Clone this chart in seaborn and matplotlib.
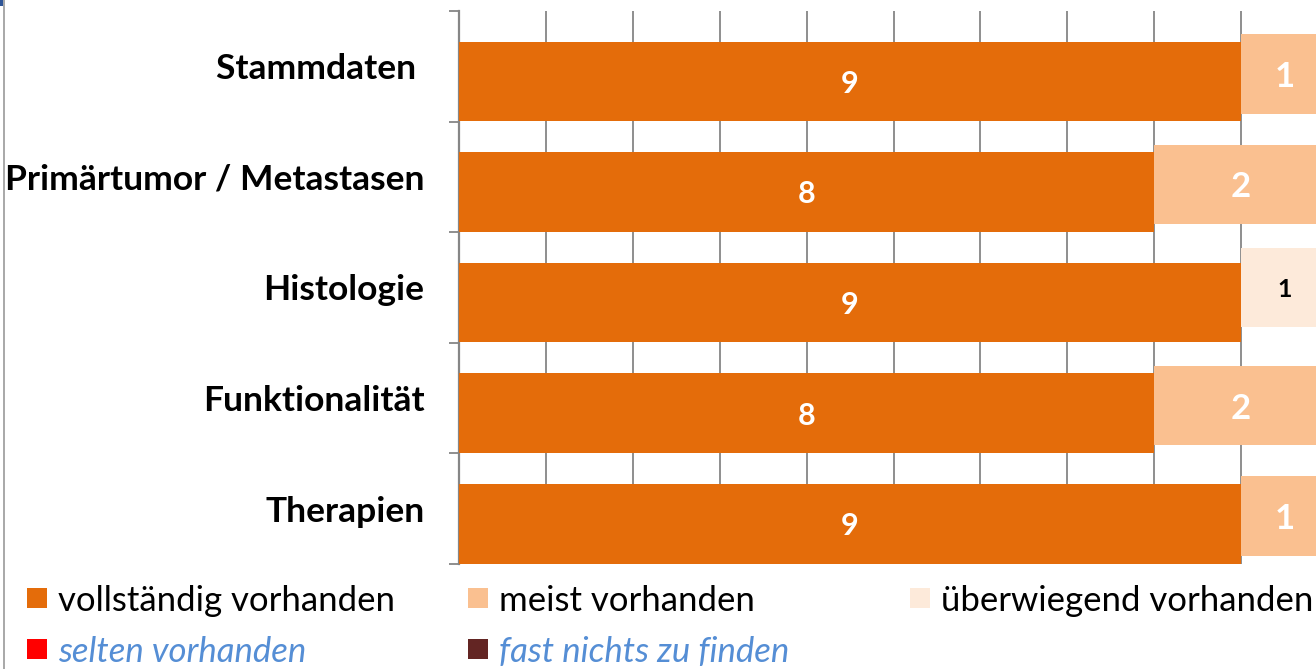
import matplotlib
matplotlib.use("Agg")
import matplotlib.pyplot as plt
from matplotlib.patches import Rectangle
from matplotlib.lines import Line2D
import seaborn as sns
import pandas as pd
import numpy as np

# ---- data ----
categories = ["Stammdaten ", "Primärtumor / Metastasen", "Histologie", "Funktionalität", "Therapien"]
series_names = ["vollständig vorhanden", "meist vorhanden", "überwiegend vorhanden",
                "selten vorhanden", "fast nichts zu finden"]
vollstaendig = [9, 8, 9, 8, 9]
meist = [1, 2, 0, 2, 1]
ueberwiegend = [0, 0, 1, 0, 0]
selten = [0, 0, 0, 0, 0]
fast_nichts = [0, 0, 0, 0, 0]

# ---- style ----
colors = ["#E46C0A", "#FAC090", "#FDEADA", "#FF0000", "#632523"]
label_colors = ["white", "white", "black", "white", "white"]
label_sizes = [22, 25, 18, 22, 22]
legend_text_colors = ["black", "black", "black", "#558ED5", "#558ED5"]
legend_italic = [False, False, False, True, True]
grid_color = "#868686"

sns.set_theme(style="white")
plt.rcParams["font.family"] = ["Lato", "DejaVu Sans"]
plt.rcParams["text.color"] = "black"

W, H = 1316, 669
fig = plt.figure(figsize=(W / 100, H / 100), dpi=100)
ax_left, ax_right, ax_top, ax_bottom = 459, 1328, 11, 564
ax = fig.add_axes([ax_left / W, 1 - ax_bottom / H, (ax_right - ax_left) / W, (ax_bottom - ax_top) / H])

all_series = [vollstaendig, meist, ueberwiegend, selten, fast_nichts]
idx = np.arange(len(categories))
bar_h = 0.72
step = 0.068
left = np.zeros(len(categories))
for i, vals in enumerate(all_series):
    vals = np.array(vals, dtype=float)
    offset = (2 - i) * step
    df = pd.DataFrame({"pos": idx + offset, "val": vals})
    sns.barplot(data=df, x="val", y="pos", orient="y", native_scale=True,
                left=left.copy(), color=colors[i], width=bar_h, errorbar=None,
                saturation=1, linewidth=0, ax=ax, zorder=3)
    cont = ax.containers[-1]
    labels = [str(int(v)) if v > 0 else "" for v in vals]
    texts = ax.bar_label(cont, labels=labels, label_type="center", color=label_colors[i],
                         fontsize=label_sizes[i], fontweight="bold")
    for t in texts:
        t.set_va("center_baseline")
    left = left + vals

ax.set_xlim(0, 10)
ax.set_ylim(len(categories) - 0.5, -0.5)

# grid
ax.set_xticks(np.arange(1, 11))
ax.xaxis.grid(True, color=grid_color, linewidth=1.3, zorder=0)
ax.yaxis.grid(False)
ax.tick_params(axis="x", length=0, labelbottom=False)
ax.set_axisbelow(True)

# y axis: boundary ticks (major) + labels (minor)
ax.set_yticks(np.arange(-0.5, len(categories) + 0.5, 1.0))
ax.set_yticklabels([])
ax.set_yticks(idx, minor=True)
ax.set_yticklabels(categories, minor=True, fontsize=25.5, fontweight="bold", color="black")
ax.tick_params(axis="y", which="major", direction="out", length=7.5, width=1.3,
               color=grid_color, left=True)
ax.tick_params(axis="y", which="minor", length=0, pad=25)
ax.set_xlabel("")
ax.set_ylabel("")
for s in ["top", "right", "bottom"]:
    ax.spines[s].set_visible(False)
ax.spines["left"].set_color(grid_color)
ax.spines["left"].set_linewidth(1.6)

# ---- legend (Excel-like fixed grid) ----
col_x = [27, 468, 910]
row_y = [598, 649]
order_pos = [(0, 0), (0, 1), (0, 2), (1, 0), (1, 1)]
for i, name in enumerate(series_names):
    r, c = order_pos[i]
    x0 = col_x[c]
    yc = row_y[r]
    fig.add_artist(Rectangle((x0 / W, 1 - (yc + 10) / H), 20 / W, 20 / H,
                             transform=fig.transFigure, facecolor=colors[i],
                             edgecolor="none"))
    fig.text((x0 + 31) / W, 1 - yc / H, name, ha="left", va="center_baseline",
             fontsize=25, color=legend_text_colors[i],
             style="italic" if legend_italic[i] else "normal")

# slide frame remnants
fig.add_artist(Line2D([3.5 / W, 3.5 / W], [0, 1], transform=fig.transFigure,
                      color="#9a9a9a", linewidth=1.2))
fig.add_artist(Rectangle((0, 1 - 6 / H), 3 / W, 6 / H, transform=fig.transFigure,
                         facecolor="#2F5597", edgecolor="none"))

fig.savefig("out.png", dpi=100)
